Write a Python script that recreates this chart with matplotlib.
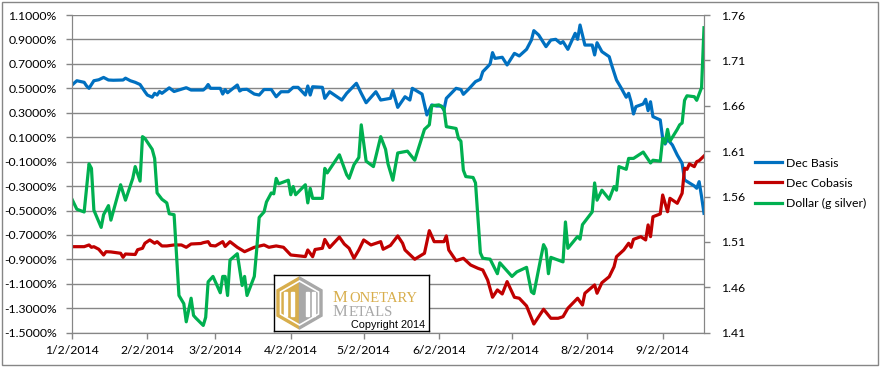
import pandas as pd
import matplotlib
matplotlib.use("Agg")
import matplotlib.pyplot as plt
from matplotlib.patches import Rectangle, Polygon
from matplotlib.ticker import FuncFormatter

plt.rcParams["font.family"] = ["Lato", "DejaVu Sans"]

# ---------------- DATA ----------------
# (days after 1/2/2014, value)
start = pd.Timestamp("2014-01-02")

dec_basis = [
    (0, 0.527), (2, 0.562), (5, 0.549), (6, 0.519), (7, 0.500), (9, 0.562), (11, 0.570),
    (13, 0.589), (15, 0.568), (17, 0.566), (21, 0.568), (22, 0.583), (24, 0.562), (26, 0.549),
    (28, 0.531), (30, 0.472), (31, 0.445), (33, 0.427), (34, 0.459), (35, 0.445), (36, 0.474),
    (37, 0.459), (40, 0.504), (42, 0.474), (47, 0.505), (49, 0.486), (54, 0.486), (55, 0.503),
    (56, 0.531), (57, 0.500), (61, 0.500), (62, 0.453), (63, 0.490), (64, 0.464), (68, 0.527),
    (69, 0.478), (70, 0.490), (72, 0.492), (75, 0.453), (77, 0.445), (79, 0.490), (82, 0.490),
    (84, 0.431), (86, 0.472), (89, 0.472), (91, 0.508), (93, 0.508), (96, 0.445), (97, 0.519),
    (98, 0.445), (99, 0.513), (103, 0.508), (104, 0.418), (106, 0.472), (111, 0.404),
    (113, 0.459), (117, 0.541), (119, 0.459), (121, 0.382), (125, 0.472), (127, 0.404),
    (131, 0.418), (132, 0.481), (134, 0.344), (137, 0.431), (139, 0.404), (140, 0.500),
    (144, 0.453), (146, 0.282), (148, 0.364), (150, 0.355), (152, 0.355), (153, 0.322),
    (154, 0.418), (158, 0.500), (160, 0.490), (161, 0.451), (163, 0.490), (166, 0.555),
    (168, 0.574), (169, 0.636), (171, 0.677), (172, 0.699), (173, 0.792), (174, 0.745),
    (177, 0.754), (179, 0.691), (182, 0.786), (184, 0.765), (187, 0.819), (189, 0.895),
    (190, 0.972), (192, 0.936), (195, 0.841), (197, 0.895), (199, 0.901), (201, 0.868),
    (202, 0.882), (204, 0.819), (207, 0.950), (208, 0.901), (209, 1.018), (211, 0.854),
    (214, 0.854), (215, 0.773), (216, 0.873), (218, 0.800), (221, 0.759), (222, 0.691),
    (224, 0.568), (226, 0.500), (228, 0.427), (229, 0.459), (230, 0.390), (231, 0.290),
    (232, 0.350), (235, 0.372), (236, 0.410), (237, 0.317), (238, 0.390), (239, 0.268),
    (242, 0.241), (243, 0.091), (244, 0.044), (245, 0.083), (247, 0.036), (249, -0.046),
    (251, -0.114), (252, -0.250), (256, -0.299), (257, -0.318), (258, -0.264), (259, -0.387),
    (260, -0.523),
]

dec_cobasis = [
    (0, -0.796), (5, -0.796), (7, -0.782), (8, -0.801), (9, -0.796), (11, -0.817), (13, -0.864),
    (14, -0.837), (16, -0.839), (20, -0.850), (21, -0.883), (22, -0.856), (26, -0.860),
    (27, -0.821), (29, -0.809), (30, -0.768), (32, -0.741), (34, -0.768), (35, -0.755),
    (37, -0.790), (39, -0.790), (42, -0.782), (45, -0.782), (47, -0.801), (49, -0.774),
    (53, -0.770), (54, -0.763), (56, -0.755), (57, -0.786), (59, -0.790), (62, -0.755),
    (63, -0.794), (65, -0.755), (68, -0.801), (71, -0.837), (75, -0.801), (79, -0.782),
    (81, -0.801), (84, -0.790), (87, -0.801), (90, -0.864), (96, -0.877), (97, -0.823),
    (99, -0.878), (100, -0.819), (103, -0.809), (104, -0.737), (106, -0.803), (110, -0.717),
    (112, -0.774), (114, -0.809), (116, -0.891), (118, -0.823), (120, -0.741), (123, -0.782),
    (127, -0.755), (128, -0.817), (131, -0.786), (134, -0.708), (136, -0.768), (137, -0.823),
    (141, -0.899), (145, -0.850), (147, -0.665), (149, -0.755), (153, -0.755), (154, -0.708),
    (155, -0.823), (158, -0.911), (161, -0.891), (164, -0.946), (167, -0.973), (169, -0.987),
    (171, -1.069), (173, -1.210), (175, -1.150), (177, -1.183), (179, -1.082), (182, -1.210),
    (184, -1.218), (187, -1.281), (190, -1.429), (194, -1.308), (197, -1.382), (200, -1.382),
    (202, -1.369), (204, -1.300), (208, -1.218), (210, -1.273), (211, -1.177), (215, -1.109),
    (216, -1.177), (218, -1.091), (221, -1.042), (223, -0.960), (224, -0.878), (227, -0.823),
    (229, -0.768), (230, -0.801), (231, -0.736), (234, -0.714), (236, -0.741), (237, -0.618),
    (238, -0.714), (239, -0.551), (242, -0.528), (243, -0.373), (245, -0.510), (246, -0.400),
    (249, -0.441), (251, -0.359), (252, -0.154), (253, -0.163), (254, -0.119), (256, -0.141),
    (257, -0.100), (258, -0.092), (260, -0.054),
]

dollar_g_silver = [
    (0, 1.557), (2, 1.546), (5, 1.543), (7, 1.596), (8, 1.591), (9, 1.545), (12, 1.526),
    (13, 1.540), (15, 1.550), (16, 1.534), (20, 1.573), (22, 1.556), (25, 1.580), (26, 1.593),
    (28, 1.577), (29, 1.626), (30, 1.624), (33, 1.612), (34, 1.602), (35, 1.564), (37, 1.557),
    (39, 1.553), (40, 1.541), (42, 1.540), (44, 1.451), (46, 1.442), (47, 1.422), (49, 1.448),
    (50, 1.429), (51, 1.426), (54, 1.418), (55, 1.427), (56, 1.466), (58, 1.472), (61, 1.454),
    (62, 1.472), (63, 1.472), (64, 1.451), (65, 1.490), (68, 1.497), (70, 1.462), (71, 1.472),
    (72, 1.451), (75, 1.472), (76, 1.502), (77, 1.537), (79, 1.543), (80, 1.554), (82, 1.564),
    (83, 1.563), (84, 1.580), (85, 1.574), (89, 1.578), (90, 1.562), (91, 1.571), (92, 1.562),
    (96, 1.573), (97, 1.553), (98, 1.569), (99, 1.558), (103, 1.558), (104, 1.591),
    (105, 1.586), (110, 1.606), (113, 1.584), (114, 1.580), (116, 1.595), (118, 1.603),
    (119, 1.639), (121, 1.599), (124, 1.593), (127, 1.626), (129, 1.612), (130, 1.596),
    (132, 1.578), (134, 1.608), (138, 1.610), (141, 1.600), (145, 1.634), (147, 1.639),
    (148, 1.660), (151, 1.661), (153, 1.657), (154, 1.637), (158, 1.635), (159, 1.624),
    (160, 1.621), (161, 1.589), (162, 1.582), (165, 1.581), (166, 1.575), (168, 1.498),
    (169, 1.492), (172, 1.491), (175, 1.475), (176, 1.487), (181, 1.472), (183, 1.477),
    (187, 1.482), (189, 1.455), (190, 1.453), (193, 1.494), (194, 1.507), (195, 1.502),
    (196, 1.475), (197, 1.493), (202, 1.488), (203, 1.532), (204, 1.503), (208, 1.516),
    (209, 1.513), (210, 1.529), (214, 1.543), (215, 1.575), (216, 1.556), (218, 1.567),
    (221, 1.557), (223, 1.571), (224, 1.567), (225, 1.593), (228, 1.590), (229, 1.602),
    (231, 1.602), (235, 1.609), (238, 1.597), (239, 1.600), (242, 1.599), (243, 1.624),
    (244, 1.619), (245, 1.634), (246, 1.621), (249, 1.634), (250, 1.639), (251, 1.641),
    (252, 1.666), (253, 1.671), (256, 1.670), (257, 1.666), (259, 1.680), (260, 1.746),
]

series_labels = ["Dec Basis", "Dec Cobasis", "Dollar (g silver)"]
series_colors = ["#0070C0", "#C00000", "#00B050"]

left_ticks = [-1.5 + 0.2 * i for i in range(14)]
right_ticks = [1.41 + 0.05 * i for i in range(8)]
month_ticks = pd.date_range("2014-01-01", "2014-09-01", freq="MS") + pd.Timedelta(days=1)
end_date = start + pd.Timedelta(days=260)


def to_frame(pairs):
    df = pd.DataFrame(pairs, columns=["day", "value"])
    df["date"] = start + pd.to_timedelta(df["day"], unit="D")
    return df


basis = to_frame(dec_basis)
cobasis = to_frame(dec_cobasis)
dollar = to_frame(dollar_g_silver)

# ---------------- FIGURE ----------------
fig = plt.figure(figsize=(8.81, 3.67), dpi=100)
ax = fig.add_axes([72 / 881, 1 - 332.7 / 367, 632 / 881, 317.7 / 367])
ax2 = ax.twinx()

grid_c = "#868686"

l1, = ax.plot(basis["date"], basis["value"], color=series_colors[0], lw=2.3, label=series_labels[0])
l2, = ax.plot(cobasis["date"], cobasis["value"], color=series_colors[1], lw=2.3, label=series_labels[1])
l3, = ax2.plot(dollar["date"], dollar["value"], color=series_colors[2], lw=2.3, label=series_labels[2])

# left axis (percent)
ax.set_ylim(-1.5, 1.1)
ax.set_yticks(left_ticks)
ax.yaxis.set_major_formatter(FuncFormatter(lambda v, p: f"{v:.4f}%"))
ax.yaxis.grid(True, color=grid_c, lw=1)
ax.set_axisbelow(True)

# right axis
ax2.set_ylim(1.41, 1.76)
ax2.set_yticks(right_ticks)
ax2.yaxis.set_major_formatter(FuncFormatter(lambda v, p: f"{v:.2f}"))

# x axis
ax.set_xlim(start, end_date)
ax.set_xticks(month_ticks)
ax.set_xticklabels([f"{d.month}/{d.day}/{d.year}" for d in month_ticks])

for a in (ax, ax2):
    for s in a.spines.values():
        s.set_color(grid_c)
    a.spines["top"].set_visible(False)
    a.tick_params(colors=grid_c, labelcolor="black", labelsize=8.8, length=4, width=1)
ax.tick_params(axis="y", pad=7)
ax.tick_params(axis="x", pad=5)
ax2.tick_params(axis="y", pad=8)

# legend
fig.legend(handles=[l1, l2, l3], loc="center left", bbox_to_anchor=(755 / 881, 1 - 183.3 / 367),
           frameon=False, fontsize=8.8, handlelength=2.2, handletextpad=0.3,
           labelspacing=0.75, borderpad=0, borderaxespad=0)

# outer chart border
fig.patches.append(Rectangle((1.5 / 881, 1 - 365 / 367), 876.5 / 881, 363.5 / 367,
                             transform=fig.transFigure, fill=False, edgecolor=grid_c, lw=1))

# ---------------- LOGO BOX ----------------
lg = fig.add_axes([274 / 881, 1 - 331 / 367, 155 / 881, 56 / 367])
lg.set_xlim(0, 155)
lg.set_ylim(56, 0)
lg.set_xticks([])
lg.set_yticks([])
for s in lg.spines.values():
    s.set_color("black")
    s.set_linewidth(1)

gold = "#D8AE4C"
grey = "#A8A8A8"
lg.add_patch(Polygon([(25.5, 2), (3, 15), (3, 41), (25.5, 54)], color=gold))
lg.add_patch(Polygon([(25.5, 2), (48, 15), (48, 41), (25.5, 54)], color=grey))
lg.add_patch(Polygon([(25.5, 6), (6.5, 17), (6.5, 39), (25.5, 50), (44.5, 39), (44.5, 17)],
                     fill=False, edgecolor="white", lw=1.2))
for px in (10, 16.5, 31.5, 38):
    lg.add_patch(Rectangle((px, 17), 3, 24, color="white"))

serif = "Liberation Serif"
lg.text(59, 27, "M", color=gold, fontsize=12, family=serif, va="baseline")
lg.text(75, 27, "ONETARY", color=gold, fontsize=10.5, family=serif, va="baseline")
lg.text(59, 41.5, "M", color=grey, fontsize=12, family=serif, va="baseline")
lg.text(75, 41.5, "ETALS", color=grey, fontsize=10.5, family=serif, va="baseline")
lg.text(151, 52.5, "Copyright 2014", color="black", fontsize=7.8, family="Liberation Sans",
        ha="right", va="baseline")

fig.savefig("out.png", dpi=100)
